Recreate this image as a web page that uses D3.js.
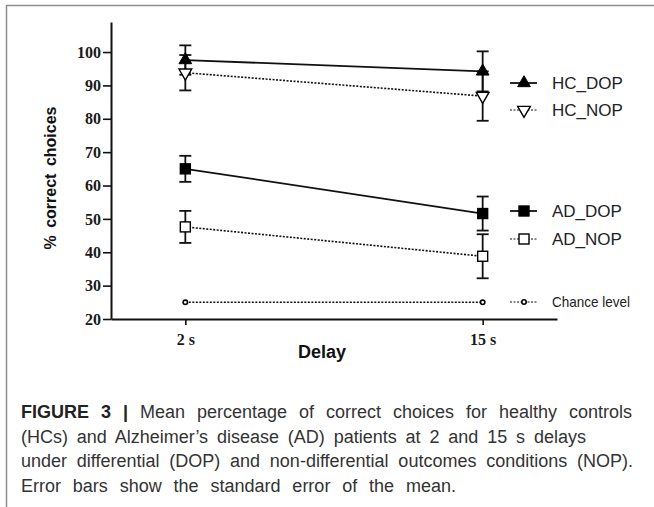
<!DOCTYPE html>
<html>
<head>
<meta charset="utf-8">
<script src="https://cdn.jsdelivr.net/npm/d3@7"></script>
<style>
  html, body { margin: 0; padding: 0; background: #fff; }
  svg { display: block; }
</style>
</head>
<body>
<div id="chart"></div>
<script>
// Data
const delays = ["2 s", "15 s"];
const yTicks = [20, 30, 40, 50, 60, 70, 80, 90, 100];

const hcDop = [97.6, 94.2];
const hcDopErr = [4.4, 6.0];
const hcNop = [93.8, 86.8];
const hcNopErr = [5.3, 7.4];
const adDop = [65.0, 51.6];
const adDopErr = [3.9, 5.1];
const adNop = [47.6, 38.8];
const adNopErr = [4.8, 6.6];
const chance = [25, 25];
const chanceErr = [0, 0];

const captionLines = [
	"Mean percentage of correct choices for healthy controls",
	"(HCs) and Alzheimer’s disease (AD) patients at 2 and 15 s delays",
	"under differential (DOP) and non-differential outcomes conditions (NOP).",
	"Error bars show the standard error of the mean."
];

const width = 654, height = 507;
const margin = { top: 22, right: 97, bottom: 188, left: 111 };

const series = [
	{ name: "HC_DOP", values: hcDop, err: hcDopErr, marker: "triUp", fill: "#000", dash: null, legendY: 83 },
	{ name: "HC_NOP", values: hcNop, err: hcNopErr, marker: "triDown", fill: "#fff", dash: "2,1.5", legendY: 110 },
	{ name: "AD_DOP", values: adDop, err: adDopErr, marker: "square", fill: "#000", dash: null, legendY: 211 },
	{ name: "AD_NOP", values: adNop, err: adNopErr, marker: "square", fill: "#fff", dash: "2,1.5", legendY: 239 },
	{ name: "Chance level", values: chance, err: chanceErr, marker: "circle", fill: "#fff", dash: "2,1.5", legendY: 302 }
];

const svg = d3.select("#chart").append("svg")
	.attr("width", width)
	.attr("height", height);

// Grey frame around the figure
svg.append("path")
	.attr("d", `M6.5,${height} L6.5,5.5 L${width},5.5`)
	.attr("fill", "none")
	.attr("stroke", "#8e8e8e")
	.attr("stroke-width", 1.5);

const plotBottom = height - margin.bottom;

const xScale = d3.scalePoint()
	.domain(delays)
	.range([margin.left, width - margin.right])
	.padding(0.25);

const yScale = d3.scaleLinear()
	.domain([20, 109])
	.range([plotBottom, margin.top]);

// Axes
const yAxis = svg.append("g")
	.attr("transform", `translate(${margin.left},0)`)
	.call(d3.axisLeft(yScale).tickValues(yTicks).tickSize(8).tickSizeOuter(0));

const xAxis = svg.append("g")
	.attr("transform", `translate(0,${plotBottom})`)
	.call(d3.axisBottom(xScale).tickSize(6).tickSizeOuter(0));

[xAxis, yAxis].forEach(g => {
	g.select(".domain").attr("stroke", "#111").attr("stroke-width", 2);
	g.selectAll(".tick line").attr("stroke", "#111").attr("stroke-width", 1.6);
	g.selectAll("text")
		.attr("font-family", "'Liberation Serif', 'Times New Roman', serif")
		.attr("font-weight", "bold")
		.attr("font-size", "16px")
		.attr("fill", "#1a1a1a");
});
yAxis.selectAll("text").attr("x", -10);
xAxis.selectAll("text").attr("y", 15);

// Axis titles
svg.append("text")
	.attr("transform", "translate(56,178) rotate(-90)")
	.attr("text-anchor", "middle")
	.attr("font-family", "'Liberation Sans', Arial, sans-serif")
	.attr("font-weight", "bold")
	.attr("font-size", "16px")
	.attr("word-spacing", "3px")
	.attr("fill", "#111")
	.text("% correct choices");

svg.append("text")
	.attr("x", 322)
	.attr("y", 358)
	.attr("text-anchor", "middle")
	.attr("font-family", "'Liberation Sans', Arial, sans-serif")
	.attr("font-weight", "bold")
	.attr("font-size", "18px")
	.attr("fill", "#111")
	.text("Delay");

// Marker drawing
function drawMarker(g, type, x, y, fill) {
	if (type === "triUp") {
		g.append("path").attr("d", d3.symbol(d3.symbolTriangle, 70)())
			.attr("transform", `translate(${x},${y})`)
			.attr("fill", fill).attr("stroke", "#000").attr("stroke-width", 1);
	} else if (type === "triDown") {
		g.append("path").attr("d", d3.symbol(d3.symbolTriangle, 70)())
			.attr("transform", `translate(${x},${y}) rotate(180)`)
			.attr("fill", fill).attr("stroke", "#000").attr("stroke-width", 1.4);
	} else if (type === "square") {
		const s = 10;
		g.append("rect")
			.attr("x", x - s / 2).attr("y", y - s / 2)
			.attr("width", s).attr("height", s)
			.attr("fill", fill).attr("stroke", "#000").attr("stroke-width", 1.4);
	} else {
		g.append("circle")
			.attr("cx", x).attr("cy", y).attr("r", 2.2)
			.attr("fill", fill).attr("stroke", "#000").attr("stroke-width", 1.6);
	}
}

const line = d3.line()
	.x((d, i) => xScale(delays[i]))
	.y(d => yScale(d));

// Connecting lines
series.forEach(s => {
	svg.append("path")
		.attr("d", line(s.values))
		.attr("fill", "none")
		.attr("stroke", "#111")
		.attr("stroke-width", s.dash ? 1.6 : 1.8)
		.attr("stroke-dasharray", s.dash);
});

// Error bars
series.forEach(s => {
	s.values.forEach((v, i) => {
		if (!s.err[i]) return;
		const x = xScale(delays[i]);
		const y1 = yScale(v - s.err[i]);
		const y2 = yScale(v + s.err[i]);
		const g = svg.append("g").attr("stroke", "#111").attr("stroke-width", 1.8);
		g.append("line").attr("x1", x).attr("x2", x).attr("y1", y1).attr("y2", y2);
		g.append("line").attr("x1", x - 6).attr("x2", x + 6).attr("y1", y1).attr("y2", y1);
		g.append("line").attr("x1", x - 6).attr("x2", x + 6).attr("y1", y2).attr("y2", y2);
	});
});

// Markers
series.forEach(s => {
	s.values.forEach((v, i) => drawMarker(svg, s.marker, xScale(delays[i]), yScale(v), s.fill));
});

// Legend
const legend = svg.append("g");
series.forEach(s => {
	const y = s.legendY;
	legend.append("line")
		.attr("x1", 510).attr("x2", 537).attr("y1", y).attr("y2", y)
		.attr("stroke", "#111")
		.attr("stroke-width", s.dash ? 1.2 : 1.8)
		.attr("stroke-dasharray", s.dash);
	drawMarker(legend, s.marker, 524, y, s.fill);
	const isChance = s.name === "Chance level";
	const t = legend.append("text")
		.attr("x", 552)
		.attr("y", y)
		.attr("dy", "0.36em")
		.attr("font-family", "'Liberation Sans', Arial, sans-serif")
		.attr("font-size", isChance ? "15px" : "17px")
		.attr("fill", "#222")
		.text(s.name);
	if (isChance) t.attr("textLength", 78).attr("lengthAdjust", "spacingAndGlyphs");
});

// Caption
const caption = svg.append("g")
	.attr("font-family", "'Liberation Sans', Arial, sans-serif")
	.attr("font-size", "18px")
	.attr("fill", "#333");

const captionTargets = [632, 586, 633, 456];
captionLines.forEach((t, i) => {
	const text = caption.append("text")
		.attr("x", 21)
		.attr("y", 418 + i * 24.7);
	if (i === 0) {
		text.append("tspan").attr("font-weight", "bold").attr("fill", "#222").text("FIGURE 3 | ");
	}
	text.append("tspan").text(t);
	const natural = text.node().getComputedTextLength();
	const words = (i === 0 ? "FIGURE 3 | " + t : t).split(" ").length;
	const extra = Math.max(0, (captionTargets[i] - 21 - natural) / (words - 1));
	text.attr("word-spacing", `${extra}px`);
});
</script>
</body>
</html>
